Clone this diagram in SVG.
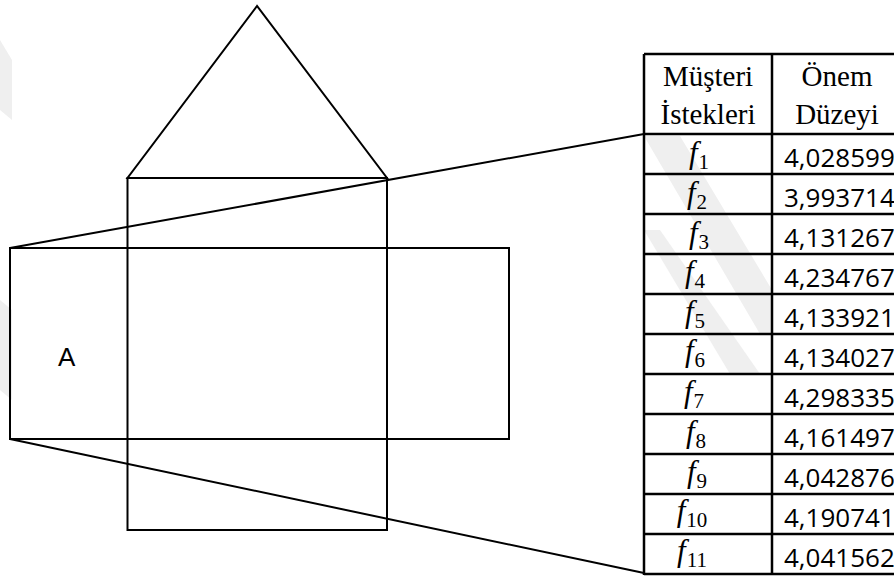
<svg xmlns="http://www.w3.org/2000/svg" width="894" height="576" viewBox="0 0 894 576">
<style>
.sh{fill:none;stroke:#000;stroke-width:2}
.tl{stroke:#000;stroke-width:2.5;fill:none}
.wm{fill:#efefef}
.hd{font-family:"Liberation Serif",serif;font-size:29px;text-anchor:middle;fill:#000}
.fl{font-family:"Liberation Serif",serif;font-size:31px;font-style:italic;text-anchor:middle;fill:#000}
.sub{font-style:normal;font-size:21px}
.nm{font-family:"Open Sans",sans-serif;font-size:26px;fill:#000}
.lb{font-family:"Liberation Sans",sans-serif;font-size:26px;fill:#000}
</style>
<rect width="894" height="576" fill="#fff"/>
<g id="watermark">
<polygon class="wm" points="644,136 680,136 772,290 772,334 760,334"/>
<polygon class="wm" points="644,230 660,230 760,374 730,374"/>
<polygon class="wm" points="0,40 12,60 12,120 0,110"/>
<polygon class="wm" points="0,300 12,310 12,400 0,390"/>
</g>
<g id="roof"><polygon class="sh" points="257,6 127.5,178 387,178"/></g>
<g id="vertical-rect"><rect class="sh" x="127.5" y="178" width="259.5" height="352"/></g>
<g id="horizontal-rect"><rect class="sh" x="10" y="248" width="499" height="191"/>
<text class="lb" x="58" y="366">A</text></g>
<g id="connectors">
<line class="sh" x1="10" y1="248" x2="644" y2="134"/>
<line class="sh" x1="10" y1="439" x2="644" y2="573"/>
</g>
<g id="table">
<g id="grid">
<line class="tl" x1="644" y1="54" x2="894" y2="54"/>
<line class="tl" x1="644" y1="54" x2="644" y2="575"/>
<line class="tl" x1="772" y1="54" x2="772" y2="575"/>
<line class="tl" x1="644" y1="134" x2="894" y2="134"/>
<line class="tl" x1="644" y1="174" x2="894" y2="174"/>
<line class="tl" x1="644" y1="214" x2="894" y2="214"/>
<line class="tl" x1="644" y1="254" x2="894" y2="254"/>
<line class="tl" x1="644" y1="294" x2="894" y2="294"/>
<line class="tl" x1="644" y1="334" x2="894" y2="334"/>
<line class="tl" x1="644" y1="374" x2="894" y2="374"/>
<line class="tl" x1="644" y1="414" x2="894" y2="414"/>
<line class="tl" x1="644" y1="454" x2="894" y2="454"/>
<line class="tl" x1="644" y1="494" x2="894" y2="494"/>
<line class="tl" x1="644" y1="534" x2="894" y2="534"/>
<line class="tl" x1="644" y1="574" x2="894" y2="574"/>
</g>
<g id="header">
<text class="hd" x="708" y="86">Müşteri</text>
<text class="hd" x="708" y="124">İstekleri</text>
<text class="hd" x="837" y="86">Önem</text>
<text class="hd" x="837" y="124">Düzeyi</text>
</g>
<g id="labels">
<text class="fl" x="699" y="163">f<tspan class="sub" dx="1" dy="6">1</tspan></text>
<text class="fl" x="697" y="203">f<tspan class="sub" dx="1" dy="6">2</tspan></text>
<text class="fl" x="699" y="243">f<tspan class="sub" dx="1" dy="6">3</tspan></text>
<text class="fl" x="695" y="282">f<tspan class="sub" dx="1" dy="6">4</tspan></text>
<text class="fl" x="695" y="322">f<tspan class="sub" dx="1" dy="6">5</tspan></text>
<text class="fl" x="695" y="361">f<tspan class="sub" dx="1" dy="6">6</tspan></text>
<text class="fl" x="694" y="402">f<tspan class="sub" dx="1" dy="6">7</tspan></text>
<text class="fl" x="696" y="442">f<tspan class="sub" dx="1" dy="6">8</tspan></text>
<text class="fl" x="697" y="482">f<tspan class="sub" dx="1" dy="6">9</tspan></text>
<text class="fl" x="692" y="521">f<tspan class="sub" dx="1" dy="6">10</tspan></text>
<text class="fl" x="692" y="561">f<tspan class="sub" dx="1" dy="6">11</tspan></text>
</g>
<g id="values">
<text class="nm" x="784" y="167">4,028599</text>
<text class="nm" x="784" y="207">3,993714</text>
<text class="nm" x="784" y="247">4,131267</text>
<text class="nm" x="784" y="287">4,234767</text>
<text class="nm" x="784" y="327">4,133921</text>
<text class="nm" x="784" y="367">4,134027</text>
<text class="nm" x="784" y="407">4,298335</text>
<text class="nm" x="784" y="447">4,161497</text>
<text class="nm" x="784" y="487">4,042876</text>
<text class="nm" x="784" y="527">4,190741</text>
<text class="nm" x="784" y="567">4,041562</text>
</g>
</g>
</svg>
